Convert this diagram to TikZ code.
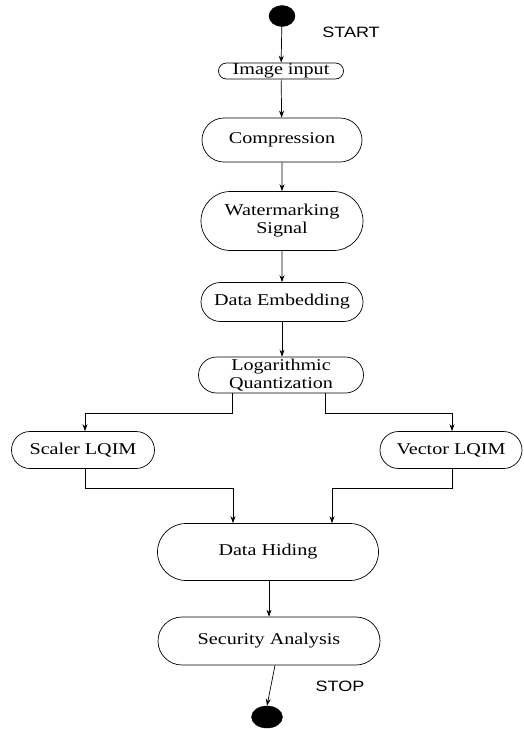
\documentclass[tikz,border=0pt]{standalone}
\usepackage{fontspec}
\setmainfont{Liberation Serif}[FakeStretch=1.22]
\newfontfamily\lblfont{Liberation Sans}[FakeStretch=1.2]
\usetikzlibrary{arrows.meta,shapes.geometric,shapes.misc}
\begin{document}
\begin{tikzpicture}[x=1pt,y=-1pt,
  box/.style={draw,line width=0.7pt,rounded rectangle,align=center,inner sep=0pt,
    font=\fontsize{16.5}{18}\selectfont},
  dot/.style={ellipse,fill=black,draw=black,inner sep=0pt},
  lbl/.style={font=\lblfont\fontsize{15}{17}\selectfont},
  arr/.style={line width=0.7pt,-{Stealth[length=7pt,width=5pt]}},
  ln/.style={line width=0.7pt}]
\useasboundingbox (0,0) rectangle (524,729);
\node[dot,minimum width=26pt,minimum height=21pt] (start) at (282,16) {};
\node[lbl] (startl) at (351,32) {START};
\node[box,minimum width=125pt,minimum height=16pt] (img) at (281,71) {Image input};
\node[box,minimum width=160pt,minimum height=44pt] (comp) at (282,140) {Compression};
\node[box,minimum width=162pt,minimum height=59pt] (wm) at (282,221) {Watermarking\\Signal};
\node[box,minimum width=162pt,minimum height=39pt] (emb) at (282,302) {Data Embedding};
\node[box,minimum width=165pt,minimum height=36pt] (lq) at (281,375) {Logarithmic\\Quantization};
\node[box,minimum width=143pt,minimum height=37pt] (sc) at (83,450) {Scaler LQIM};
\node[box,minimum width=142pt,minimum height=37pt] (vc) at (451,450) {Vector LQIM};
\node[box,minimum width=221pt,minimum height=57pt] (dh) at (268,552) {Data Hiding};
\node[box,minimum width=222pt,minimum height=48pt] (sa) at (269,641) {Security Analysis};
\node[dot,minimum width=31pt,minimum height=22pt] (stop) at (267,717) {};
\node[lbl] (stopl) at (340,686) {STOP};
\draw[arr] (start) -- (img);
\draw[arr] (img) -- (comp);
\draw[arr] (comp) -- (wm);
\draw[arr] (wm) -- (emb);
\draw[arr] (emb.south -| 282,0) -- (lq.north -| 282,0);
\draw[arr] (lq.south -| 232,0) -- (232,413) -| (sc.north -| 85,0);
\draw[arr] (lq.south -| 325,0) -- (325,413) -| (vc.north -| 452,0);
\draw[arr] (sc.south -| 85,0) -- (85,488) -| (dh.north -| 233,0);
\draw[arr] (vc.south -| 452,0) -- (452,488) -| (dh.north -| 332,0);
\draw[arr] (dh.south -| 269,0) -- (sa.north -| 269,0);
\draw[arr] (sa.south -| 275,0) -- (stop.north);
\end{tikzpicture}
\end{document}
